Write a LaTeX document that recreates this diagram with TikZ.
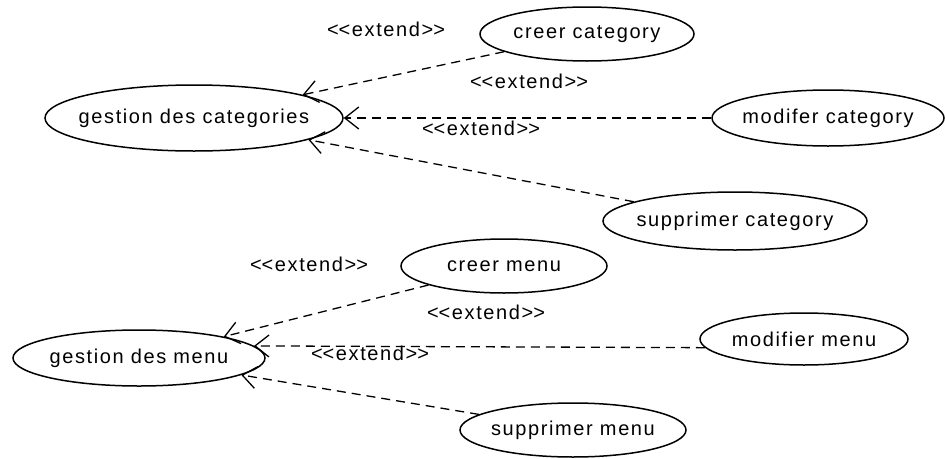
\documentclass[tikz,border=0pt]{standalone}
\usepackage{fontspec}
\setmainfont{Liberation Sans}[LetterSpace=8]
\usetikzlibrary{shapes.geometric,arrows.meta}

% stereotype text, kerns keep the angle brackets from becoming guillemets
\newcommand{\extendtxt}{<\kern0pt<extend>\kern0pt>}

\tikzset{
  usecase/.style={ellipse, draw=black, line width=1.5pt, inner sep=0pt,
    font=\fontsize{20}{23}\selectfont},
  extends/.style={draw=black, line width=1.3pt, dash pattern=on 9pt off 6pt,
    -{Straight Barb[length=14pt,width=22pt,line width=1.3pt]}},
  stereo/.style={font=\fontsize{20}{23}\selectfont, inner sep=0pt}
}

\newcommand{\uc}[1]{\makebox[0pt]{#1}}

\begin{document}
\begin{tikzpicture}[x=1pt, y=-1pt]
  \path[use as bounding box, fill=white] (0,0) rectangle (945,458);

  % categories
  \node[usecase, minimum width=298pt, minimum height=66pt] (gc) at (194,118) {\uc{gestion des categories}};
  \node[usecase, minimum width=214pt, minimum height=54pt] (cc) at (587,34) {\uc{creer category}};
  \node[usecase, minimum width=232pt, minimum height=56pt] (mc) at (828,118) {\uc{modifer category}};
  \node[usecase, minimum width=264pt, minimum height=58pt] (sc) at (735,221) {\uc{supprimer category}};

  % menus
  \node[usecase, minimum width=252pt, minimum height=56pt] (gm) at (139,358) {\uc{gestion des menu}};
  \node[usecase, minimum width=206pt, minimum height=54pt] (cm) at (504,266) {\uc{creer menu}};
  \node[usecase, minimum width=208pt, minimum height=52pt] (mm) at (804,339) {\uc{modifier menu}};
  \node[usecase, minimum width=226pt, minimum height=54pt] (sm) at (573,430) {\uc{supprimer menu}};

  % extend relations
  \draw[extends] (cc) -- (gc);
  \draw[extends] (mc) -- (gc);
  \draw[extends] (sc) -- (gc);
  \draw[extends] (cm) -- (gm);
  \draw[extends] (mm.185) -- (gm.6);
  \draw[extends] (sm) -- (gm);

  % stereotypes
  \node[stereo] (e1) at (386,29) {\extendtxt};
  \node[stereo] (e2) at (529,81) {\extendtxt};
  \node[stereo] (e3) at (481,128) {\extendtxt};
  \node[stereo] (e4) at (309,264) {\extendtxt};
  \node[stereo] (e5) at (486,312) {\extendtxt};
  \node[stereo] (e6) at (370,353) {\extendtxt};
\end{tikzpicture}
\end{document}
